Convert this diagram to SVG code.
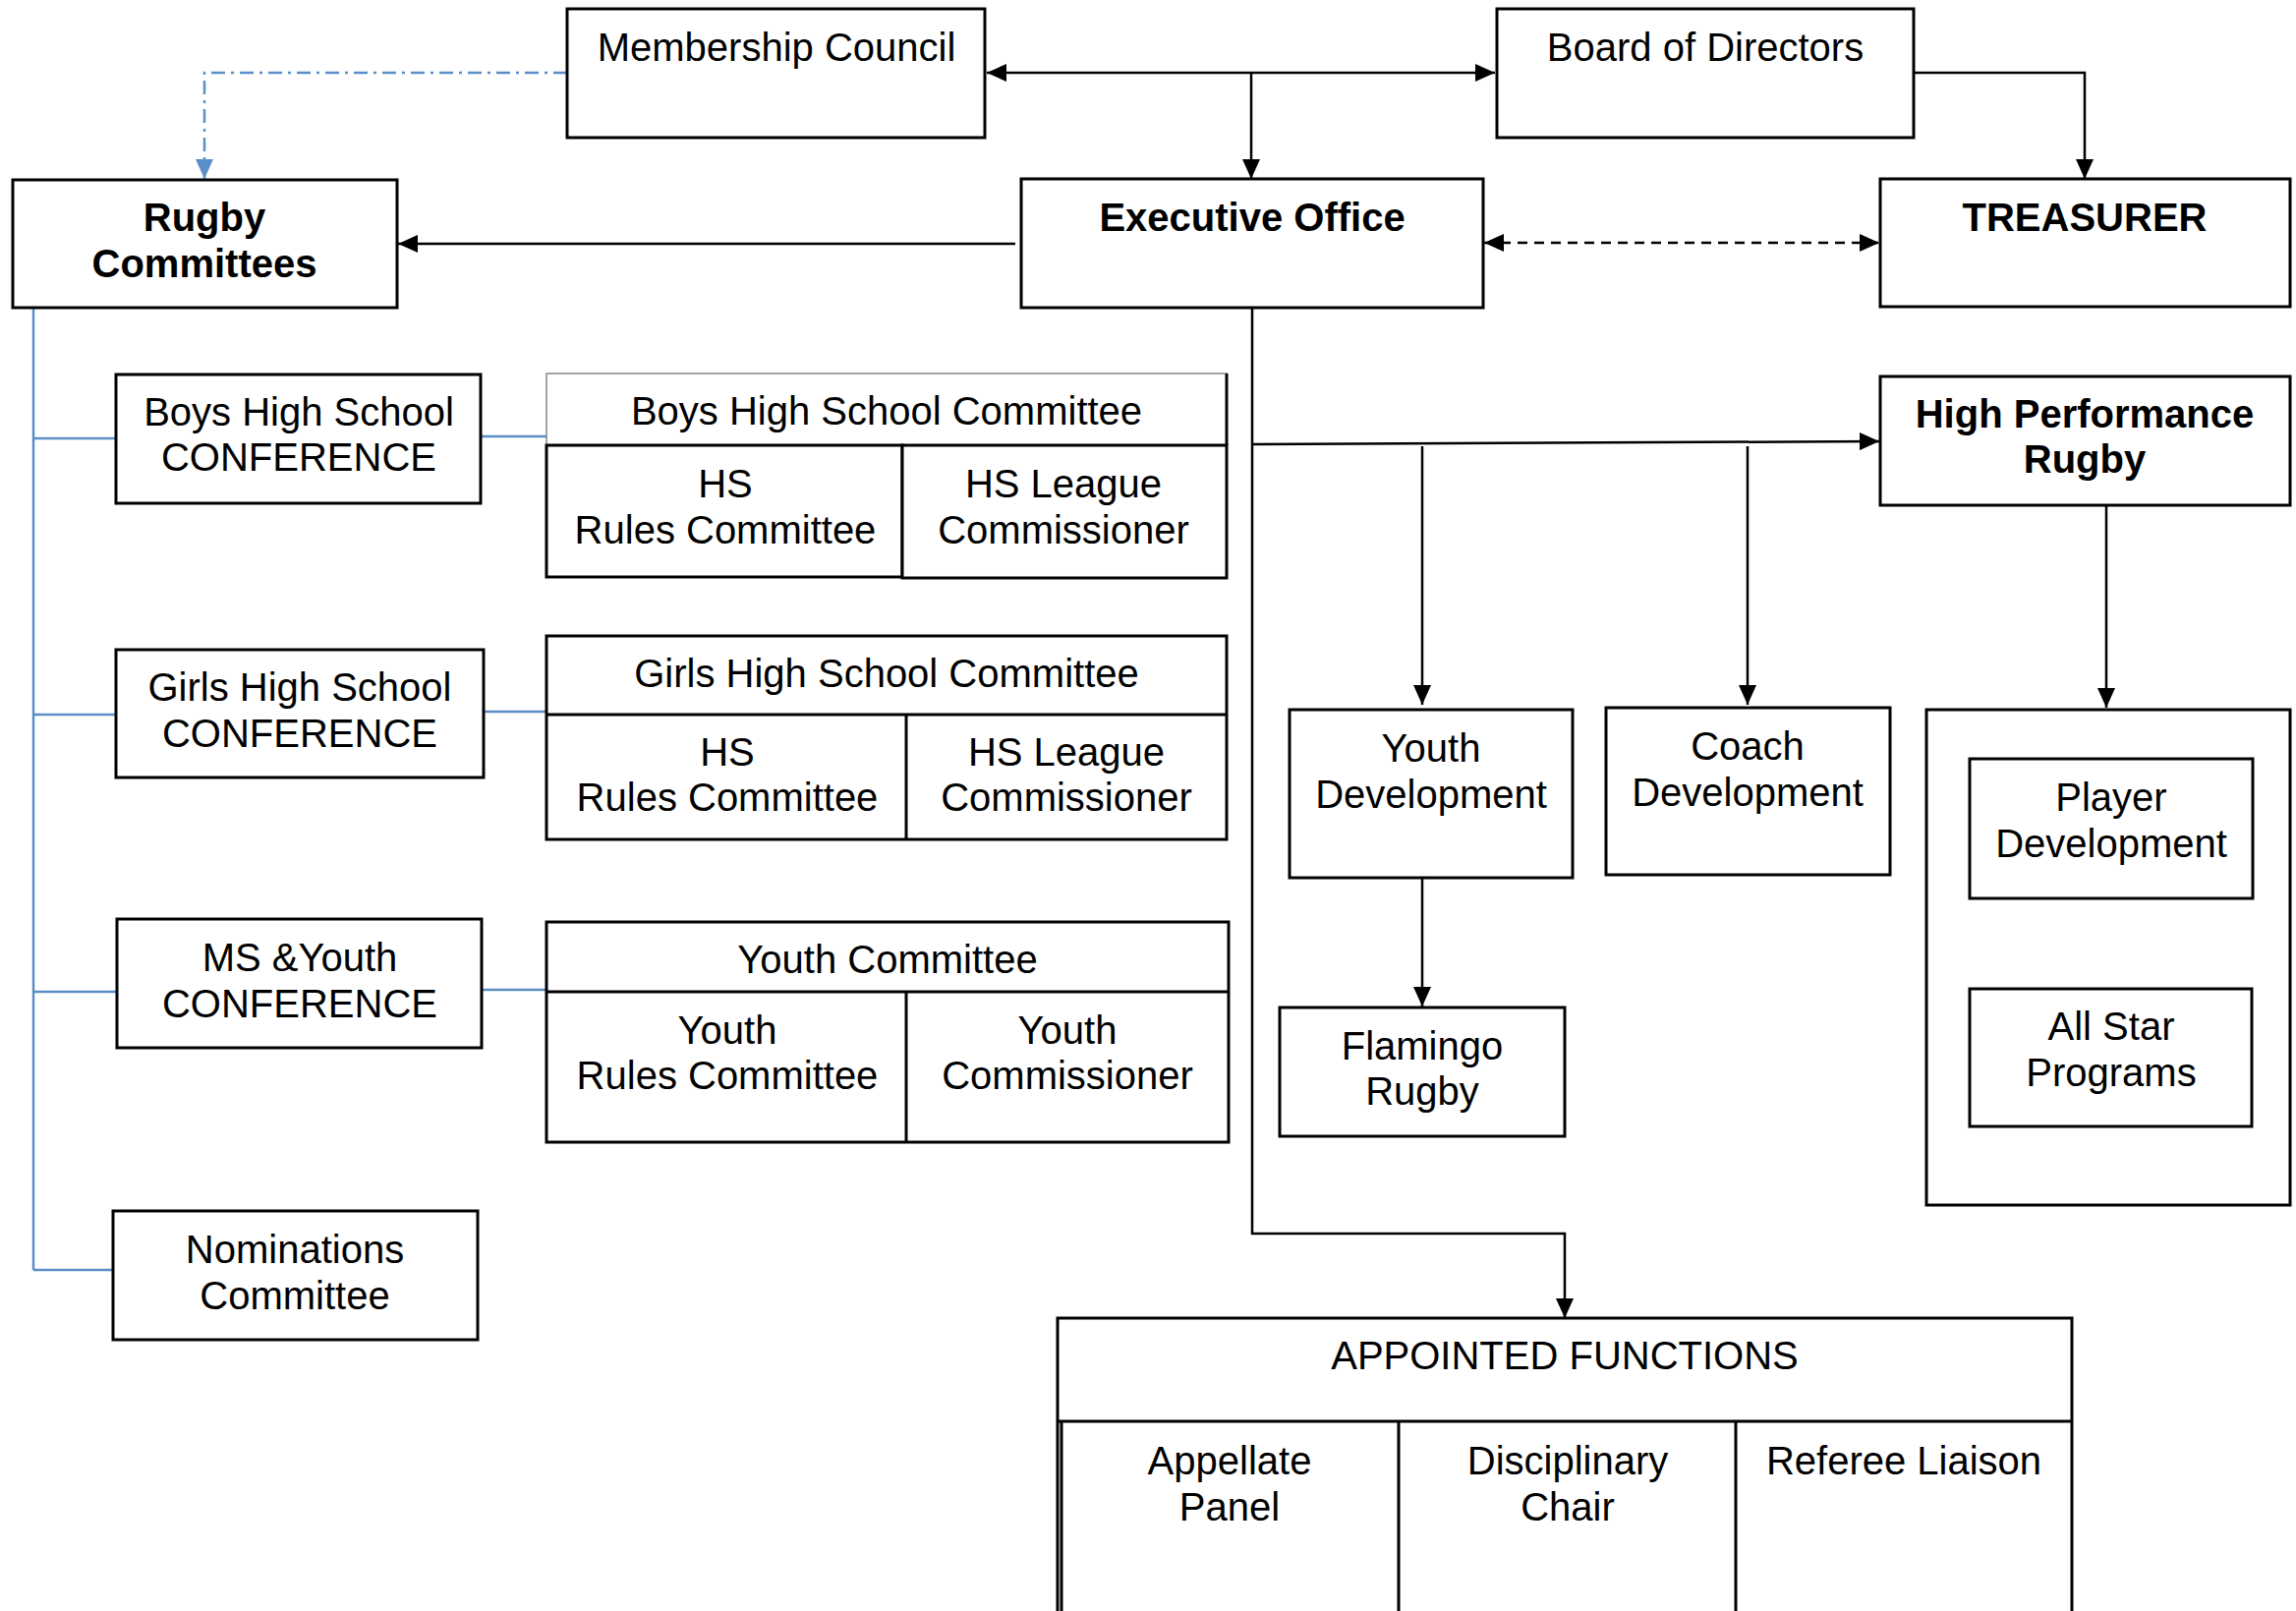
<svg xmlns="http://www.w3.org/2000/svg" width="2336" height="1639" viewBox="0 0 2336 1639">
<style>
.box{fill:#fff;stroke:#000;stroke-width:3}
.cell{fill:none;stroke:#000;stroke-width:3}
.t{font-family:"Liberation Sans",Arial,sans-serif;font-size:40px;fill:#000;text-anchor:middle}
.b{font-weight:bold}
.ln{fill:none;stroke:#000;stroke-width:2.5}
.bl{fill:none;stroke:#5b8ec8;stroke-width:2.5}
</style>
<defs>
<marker id="ah" markerUnits="userSpaceOnUse" markerWidth="20" markerHeight="18" refX="20" refY="9" orient="auto-start-reverse" viewBox="0 0 20 18">
<path d="M0,0 L20,9 L0,18 z" fill="#000"/>
</marker>
<marker id="ahb" markerUnits="userSpaceOnUse" markerWidth="20" markerHeight="18" refX="20" refY="9" orient="auto" viewBox="0 0 20 18">
<path d="M0,0 L20,9 L0,18 z" fill="#5b8ec8"/>
</marker>
</defs>
<rect width="2336" height="1639" fill="#fff"/>

<g id="connectors">
<line class="ln" x1="1004" y1="74" x2="1521" y2="74" marker-start="url(#ah)" marker-end="url(#ah)"/>
<polyline class="ln" points="1273,74 1273,182" marker-end="url(#ah)"/>
<polyline class="ln" points="1947,74 2121,74 2121,182" marker-end="url(#ah)"/>
<line class="ln" x1="1510" y1="247" x2="1912" y2="247" stroke-dasharray="10,7" marker-start="url(#ah)" marker-end="url(#ah)"/>
<line class="ln" x1="1033" y1="248" x2="405" y2="248" marker-end="url(#ah)"/>
<polyline class="bl" points="577,74 208,74 208,182" stroke-dasharray="14,6,3,6" marker-end="url(#ahb)"/>
<polyline class="bl" points="34,313 34,1292"/>
<line class="bl" x1="34" y1="446" x2="118" y2="446"/>
<line class="bl" x1="34" y1="727" x2="118" y2="727"/>
<line class="bl" x1="34" y1="1009" x2="119" y2="1009"/>
<line class="bl" x1="34" y1="1292" x2="115" y2="1292"/>
<line class="bl" x1="489" y1="444" x2="556" y2="444"/>
<line class="bl" x1="492" y1="724" x2="556" y2="724"/>
<line class="bl" x1="490" y1="1007" x2="556" y2="1007"/>
<polyline class="ln" points="1274,313 1274,1255 1592,1255 1592,1341" marker-end="url(#ah)"/>
<line class="ln" x1="1274" y1="452" x2="1912" y2="449" marker-end="url(#ah)"/>
<line class="ln" x1="1447" y1="454" x2="1447" y2="717" marker-end="url(#ah)"/>
<line class="ln" x1="1778" y1="454" x2="1778" y2="717" marker-end="url(#ah)"/>
<line class="ln" x1="2143" y1="514" x2="2143" y2="720" marker-end="url(#ah)"/>
<line class="ln" x1="1447" y1="893" x2="1447" y2="1024" marker-end="url(#ah)"/>
</g>

<g id="membership-council">
<rect class="box" x="577" y="9" width="425" height="131"/>
<text class="t" x="790" y="62">Membership Council</text>
</g>
<g id="board-of-directors">
<rect class="box" x="1523" y="9" width="424" height="131"/>
<text class="t" x="1735" y="62">Board of Directors</text>
</g>
<g id="executive-office">
<rect class="box" x="1039" y="182" width="470" height="131"/>
<text class="t b" x="1274" y="235">Executive Office</text>
</g>
<g id="treasurer">
<rect class="box" x="1913" y="182" width="417" height="130"/>
<text class="t b" x="2121" y="235">TREASURER</text>
</g>
<g id="rugby-committees">
<rect class="box" x="13" y="183" width="391" height="130"/>
<text class="t b" x="208" y="235">Rugby</text>
<text class="t b" x="208" y="282">Committees</text>
</g>

<g id="boys-hs-conference">
<rect class="box" x="118" y="381" width="371" height="131"/>
<text class="t" x="304" y="433">Boys High School</text>
<text class="t" x="304" y="479">CONFERENCE</text>
</g>
<g id="boys-hs-committee">
<rect x="556" y="380" width="692" height="73" fill="#fff" stroke="#888" stroke-width="1.5"/>
<line class="cell" x1="1248" y1="380" x2="1248" y2="453"/>
<text class="t" x="902" y="432">Boys High School Committee</text>
<rect class="box" x="556" y="453" width="362" height="134"/>
<rect class="box" x="918" y="453" width="330" height="135"/>
<text class="t" x="738" y="506">HS</text>
<text class="t" x="738" y="553">Rules Committee</text>
<text class="t" x="1082" y="506">HS League</text>
<text class="t" x="1082" y="553">Commissioner</text>
</g>

<g id="girls-hs-conference">
<rect class="box" x="118" y="661" width="374" height="130"/>
<text class="t" x="305" y="713">Girls High School</text>
<text class="t" x="305" y="760">CONFERENCE</text>
</g>
<g id="girls-hs-committee">
<rect class="box" x="556" y="647" width="692" height="207"/>
<line class="cell" x1="556" y1="727" x2="1248" y2="727"/>
<line class="cell" x1="922" y1="727" x2="922" y2="854"/>
<text class="t" x="902" y="699">Girls High School Committee</text>
<text class="t" x="740" y="779">HS</text>
<text class="t" x="740" y="825">Rules Committee</text>
<text class="t" x="1085" y="779">HS League</text>
<text class="t" x="1085" y="825">Commissioner</text>
</g>

<g id="ms-youth-conference">
<rect class="box" x="119" y="935" width="371" height="131"/>
<text class="t" x="305" y="988">MS &amp;Youth</text>
<text class="t" x="305" y="1035">CONFERENCE</text>
</g>
<g id="youth-committee">
<rect class="box" x="556" y="938" width="694" height="224"/>
<line class="cell" x1="556" y1="1009" x2="1250" y2="1009"/>
<line class="cell" x1="922" y1="1009" x2="922" y2="1162"/>
<text class="t" x="903" y="990">Youth Committee</text>
<text class="t" x="740" y="1062">Youth</text>
<text class="t" x="740" y="1108">Rules Committee</text>
<text class="t" x="1086" y="1062">Youth</text>
<text class="t" x="1086" y="1108">Commissioner</text>
</g>

<g id="nominations-committee">
<rect class="box" x="115" y="1232" width="371" height="131"/>
<text class="t" x="300" y="1285">Nominations</text>
<text class="t" x="300" y="1332">Committee</text>
</g>

<g id="high-performance-rugby">
<rect class="box" x="1913" y="383" width="417" height="131"/>
<text class="t b" x="2121" y="435">High Performance</text>
<text class="t b" x="2121" y="481">Rugby</text>
</g>
<g id="youth-development">
<rect class="box" x="1312" y="722" width="288" height="171"/>
<text class="t" x="1456" y="775">Youth</text>
<text class="t" x="1456" y="822">Development</text>
</g>
<g id="coach-development">
<rect class="box" x="1634" y="720" width="289" height="170"/>
<text class="t" x="1778" y="773">Coach</text>
<text class="t" x="1778" y="820">Development</text>
</g>
<g id="hp-programs">
<rect class="box" x="1960" y="722" width="370" height="504"/>
</g>
<g id="player-development">
<rect class="box" x="2004" y="772" width="288" height="142"/>
<text class="t" x="2148" y="825">Player</text>
<text class="t" x="2148" y="872">Development</text>
</g>
<g id="all-star-programs">
<rect class="box" x="2004" y="1006" width="287" height="140"/>
<text class="t" x="2148" y="1058">All Star</text>
<text class="t" x="2148" y="1105">Programs</text>
</g>
<g id="flamingo-rugby">
<rect class="box" x="1302" y="1025" width="290" height="131"/>
<text class="t" x="1447" y="1078">Flamingo</text>
<text class="t" x="1447" y="1124">Rugby</text>
</g>

<g id="appointed-functions">
<rect class="box" x="1076" y="1341" width="1032" height="340"/>
<line class="cell" x1="1076" y1="1446" x2="2108" y2="1446"/>
<line class="cell" x1="1080" y1="1446" x2="1080" y2="1660"/>
<line class="cell" x1="1423" y1="1446" x2="1423" y2="1660"/>
<line class="cell" x1="1766" y1="1446" x2="1766" y2="1660"/>
<text class="t" x="1592" y="1393">APPOINTED FUNCTIONS</text>
<text class="t" x="1251" y="1500">Appellate</text>
<text class="t" x="1251" y="1547">Panel</text>
<text class="t" x="1595" y="1500">Disciplinary</text>
<text class="t" x="1595" y="1547">Chair</text>
<text class="t" x="1937" y="1500">Referee Liaison</text>
</g>
</svg>
